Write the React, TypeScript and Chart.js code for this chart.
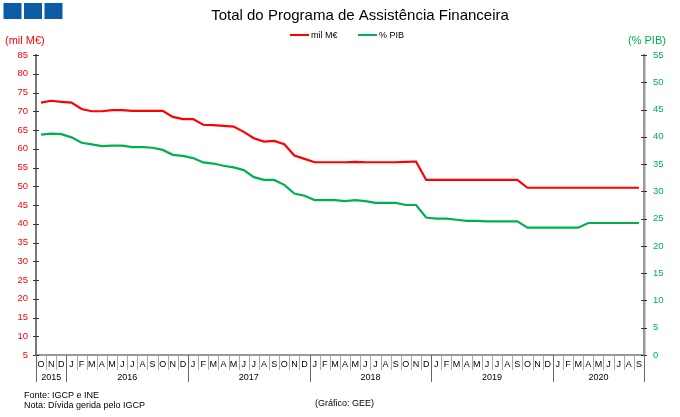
import { useEffect, useRef } from 'react';
import { Chart, registerables } from 'chart.js';

Chart.register(...registerables);

const FONT = '"Liberation Sans", Arial, sans-serif';

const chartTitle = 'Total do Programa de Assistência Financeira';
const leftAxisTitle = '(mil M€)';
const rightAxisTitle = '(% PIB)';
const footerSource = 'Fonte: IGCP e INE';
const footerNote = 'Nota: Dívida gerida pelo IGCP';
const footerCredit = '(Gráfico: GEE)';

const seriesLabels = ['mil M€', '% PIB'];
const seriesColors = ['#FF0000', '#00B050'];

const months = [
  'O', 'N', 'D',
  'J', 'F', 'M', 'A', 'M', 'J', 'J', 'A', 'S', 'O', 'N', 'D',
  'J', 'F', 'M', 'A', 'M', 'J', 'J', 'A', 'S', 'O', 'N', 'D',
  'J', 'F', 'M', 'A', 'M', 'J', 'J', 'A', 'S', 'O', 'N', 'D',
  'J', 'F', 'M', 'A', 'M', 'J', 'J', 'A', 'S', 'O', 'N', 'D',
  'J', 'F', 'M', 'A', 'M', 'J', 'J', 'A', 'S',
];

const yearLabels = ['2015', '2016', '2017', '2018', '2019', '2020'];
const yearMonthCounts = [3, 12, 12, 12, 12, 9];

const milMEur = [
  72.3, 72.8, 72.5, 72.3, 70.6, 70.0, 70.0, 70.3, 70.3, 70.1, 70.1, 70.1,
  70.1, 68.5, 67.9, 67.9, 66.4, 66.3, 66.1, 65.9, 64.5, 62.8, 61.9, 62.1,
  61.2, 58.2, 57.3, 56.4, 56.4, 56.4, 56.4, 56.5, 56.4, 56.4, 56.4, 56.4,
  56.5, 56.6, 51.7, 51.7, 51.7, 51.7, 51.7, 51.7, 51.7, 51.7, 51.7, 51.7,
  49.6, 49.6, 49.6, 49.6, 49.6, 49.6, 49.6, 49.6, 49.6, 49.6, 49.6, 49.6,
];

const pctPIB = [
  40.4, 40.6, 40.5, 39.9, 38.9, 38.6, 38.3, 38.4, 38.4, 38.1, 38.1, 38.0,
  37.6, 36.7, 36.5, 36.1, 35.3, 35.1, 34.7, 34.4, 33.9, 32.6, 32.1, 32.1,
  31.2, 29.6, 29.2, 28.4, 28.4, 28.4, 28.2, 28.4, 28.2, 27.9, 27.9, 27.9,
  27.5, 27.5, 25.2, 25.0, 25.0, 24.8, 24.6, 24.6, 24.5, 24.5, 24.5, 24.5,
  23.35, 23.35, 23.35, 23.35, 23.35, 23.35, 24.2, 24.2, 24.2, 24.2, 24.2, 24.2,
];

const leftMin = 5;
const leftMax = 85;
const leftStep = 5;
const rightMin = 0;
const rightMax = 55;
const rightStep = 5;

const decorPlugin = {
  id: 'decor',
  afterDraw(chart: any) {
    const ctx = chart.ctx as CanvasRenderingContext2D;
    const xs = chart.scales.x;
    const yL = chart.scales.yL;
    const yR = chart.scales.yR;
    const { left, right, bottom } = chart.chartArea;
    ctx.save();

    // logo squares
    ctx.fillStyle = '#0B5CA5';
    [3.5, 24, 44.5].forEach((lx) => ctx.fillRect(lx, 3, 18, 16));

    // title
    ctx.fillStyle = '#000';
    ctx.font = `15px ${FONT}`;
    ctx.textAlign = 'center';
    ctx.textBaseline = 'alphabetic';
    ctx.fillText(chartTitle, 360, 19.5);

    // legend
    const legendX = [290, 358];
    ctx.font = `9px ${FONT}`;
    ctx.textAlign = 'left';
    ctx.textBaseline = 'middle';
    chart.data.datasets.forEach((ds: any, k: number) => {
      ctx.strokeStyle = ds.borderColor;
      ctx.lineWidth = 2;
      ctx.beginPath();
      ctx.moveTo(legendX[k], 35);
      ctx.lineTo(legendX[k] + 19, 35);
      ctx.stroke();
      ctx.fillStyle = '#000';
      ctx.fillText(ds.label, legendX[k] + 21, 35.5);
    });

    // axis titles
    ctx.font = `11px ${FONT}`;
    ctx.textBaseline = 'alphabetic';
    ctx.fillStyle = seriesColors[0];
    ctx.textAlign = 'left';
    ctx.fillText(leftAxisTitle, 5, 44);
    ctx.fillStyle = seriesColors[1];
    ctx.fillText(rightAxisTitle, 628, 44);

    // crossing tick marks
    ctx.strokeStyle = '#333';
    ctx.lineWidth = 1;
    yL.ticks.forEach((t: any) => {
      const py = Math.round(yL.getPixelForValue(t.value)) + 0.5;
      ctx.beginPath();
      ctx.moveTo(left - 3, py);
      ctx.lineTo(left + 3, py);
      ctx.stroke();
    });
    yR.ticks.forEach((t: any) => {
      const py = Math.round(yR.getPixelForValue(t.value)) + 0.5;
      ctx.beginPath();
      ctx.moveTo(right - 3, py);
      ctx.lineTo(right + 3, py);
      ctx.stroke();
    });

    // month separators & year groups
    const cellW = xs.getPixelForValue(1) - xs.getPixelForValue(0);
    const x0 = xs.getPixelForValue(0) - cellW / 2;
    const boundaries: number[] = [0];
    yearMonthCounts.forEach((c) => boundaries.push(boundaries[boundaries.length - 1] + c));
    for (let i = 0; i <= months.length; i++) {
      const sx = Math.round(x0 + i * cellW) + 0.5;
      const isYear = boundaries.includes(i);
      ctx.strokeStyle = isYear ? '#666' : '#aaa';
      ctx.lineWidth = 1;
      ctx.beginPath();
      ctx.moveTo(sx, bottom);
      ctx.lineTo(sx, bottom + (isYear ? 27 : 15));
      ctx.stroke();
    }
    ctx.fillStyle = '#000';
    ctx.font = `9px ${FONT}`;
    ctx.textAlign = 'center';
    ctx.textBaseline = 'middle';
    yearLabels.forEach((yl, k) => {
      const a = xs.getPixelForValue(boundaries[k]);
      const b = xs.getPixelForValue(boundaries[k + 1] - 1);
      ctx.fillText(yl, (a + b) / 2, 377.5);
    });

    // footer
    ctx.textAlign = 'left';
    ctx.textBaseline = 'alphabetic';
    ctx.fillText(footerSource, 24, 397.5);
    ctx.fillText(footerNote, 24, 407.5);
    ctx.fillText(footerCredit, 315, 405.5);

    ctx.restore();
  },
};

export default function App() {
  const canvasRef = useRef<HTMLCanvasElement | null>(null);

  useEffect(() => {
    if (!canvasRef.current) return;
    const chart = new Chart(canvasRef.current, {
      type: 'line',
      data: {
        labels: months,
        datasets: [
          {
            label: seriesLabels[0],
            data: milMEur,
            borderColor: seriesColors[0],
            backgroundColor: seriesColors[0],
            borderWidth: 2.2,
            pointRadius: 0,
            tension: 0,
            yAxisID: 'yL',
          },
          {
            label: seriesLabels[1],
            data: pctPIB,
            borderColor: seriesColors[1],
            backgroundColor: seriesColors[1],
            borderWidth: 2.2,
            pointRadius: 0,
            tension: 0,
            yAxisID: 'yR',
          },
        ],
      },
      options: {
        animation: false,
        responsive: false,
        devicePixelRatio: 1,
        layout: { padding: { top: 55, left: 0, right: 0, bottom: 0 } },
        plugins: {
          legend: { display: false },
          title: { display: false },
          tooltip: { enabled: false },
        },
        scales: {
          x: {
            type: 'category',
            offset: true,
            grid: { display: false, drawTicks: false },
            border: { display: true, color: '#999', width: 2 },
            ticks: {
              autoSkip: false,
              maxRotation: 0,
              minRotation: 0,
              padding: 4,
              color: '#000',
              font: { family: FONT, size: 9 },
            },
            afterFit: (s: any) => {
              s.height = 62;
            },
          },
          yL: {
            type: 'linear',
            position: 'left',
            min: leftMin,
            max: leftMax,
            ticks: {
              stepSize: leftStep,
              padding: 8,
              color: seriesColors[0],
              font: { family: FONT, size: 9.5 },
            },
            grid: { display: false, drawTicks: false },
            border: { display: true, color: '#777', width: 2 },
            afterFit: (s: any) => {
              s.width = 36;
            },
          },
          yR: {
            type: 'linear',
            position: 'right',
            min: rightMin,
            max: rightMax,
            ticks: {
              stepSize: rightStep,
              padding: 9,
              color: seriesColors[1],
              font: { family: FONT, size: 9.5 },
            },
            grid: { display: false, drawTicks: false },
            border: { display: true, color: '#999', width: 2.5 },
            afterFit: (s: any) => {
              s.width = 36;
            },
          },
        },
      },
      plugins: [decorPlugin],
    } as any);
    return () => chart.destroy();
  }, []);

  return (
    <div style={{ position: 'absolute', left: 0, top: 0, width: 680, height: 417, background: '#fff' }}>
      <canvas ref={canvasRef} width={680} height={417} style={{ width: 680, height: 417, display: 'block' }} />
    </div>
  );
}
